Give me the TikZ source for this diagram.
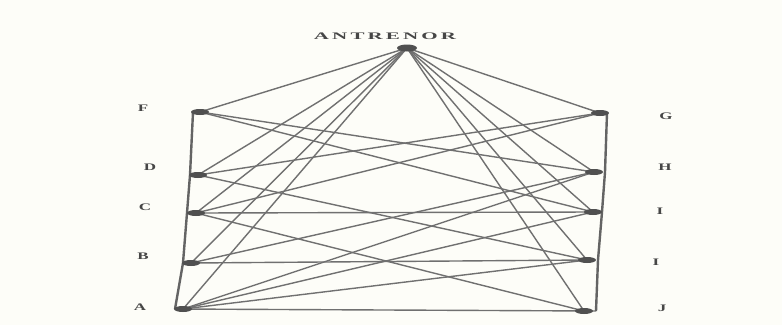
\documentclass[tikz,border=0pt]{standalone}
\usepackage{fontspec}
\setmainfont{Liberation Serif}
\usetikzlibrary{shapes.geometric}
\definecolor{bg}{RGB}{253,253,248}
\definecolor{linegray}{RGB}{112,112,112}
\definecolor{bordergray}{RGB}{100,100,100}
\definecolor{nodegray}{RGB}{80,80,80}
\definecolor{labelgray}{RGB}{70,70,70}
\begin{document}
\begin{tikzpicture}[x=1pt,y=-1pt,
  vtx/.style={ellipse, fill=nodegray, inner sep=0pt, minimum width=18pt, minimum height=6pt},
  edgeline/.style={draw=linegray, line width=1.4pt},
  borderline/.style={draw=bordergray, line width=2.4pt},
  lbl/.style={text=labelgray, font=\bfseries\fontsize{10}{10}\selectfont, inner sep=0pt}]
\fill[bg] (0,0) rectangle (782,325);
\useasboundingbox (0,0) rectangle (782,325);
% positions
\coordinate (N) at (407,48);
\coordinate (F) at (200,112);
\coordinate (D) at (198,175);
\coordinate (C) at (196,213);
\coordinate (B) at (191,263);
\coordinate (A) at (183,309);
\coordinate (G) at (600,113);
\coordinate (H) at (594,172);
\coordinate (I) at (593,212);
\coordinate (K) at (587,260);
\coordinate (J) at (584,311);
% border anchors
\coordinate (Fb) at (193,112);
\coordinate (Db) at (190,175);
\coordinate (Cb) at (187,213);
\coordinate (Bb) at (183,263);
\coordinate (Ab) at (175,309);
\coordinate (Gb) at (607,113);
\coordinate (Hb) at (605,172);
\coordinate (Ib) at (602,212);
\coordinate (Kb) at (598,260);
\coordinate (Jb) at (596,311);
% apex edges
\foreach \t in {F,D,C,B,A,G,H,I,K,J} \draw[edgeline] (N) -- (\t);
% cross edges
\draw[edgeline] (F) -- (H);
\draw[edgeline] (F) -- (I);
\draw[edgeline] (D) -- (G);
\draw[edgeline] (D) -- (K);
\draw[edgeline] (C) -- (G);
\draw[edgeline] (C) -- (I);
\draw[edgeline] (C) -- (J);
\draw[edgeline] (B) -- (H);
\draw[edgeline] (B) -- (K);
\draw[edgeline] (A) -- (H);
\draw[edgeline] (A) -- (I);
\draw[edgeline] (A) -- (K);
\draw[edgeline] (Ab) -- (Jb);
% borders
\draw[borderline] (Fb) -- (Db) -- (Cb) -- (Bb) -- (Ab);
\draw[borderline] (Gb) -- (Hb) -- (Ib) -- (Kb) -- (Jb);
% vertices
\node[vtx, minimum width=20pt, minimum height=7pt] (vN) at (N) {};
\foreach \t in {F,D,C,B,A,G,H,I,K,J} \node[vtx] (v\t) at (\t) {};
% labels
\node[lbl] (lN) at (385,36) {\scalebox{2.1}[1]{\addfontfeature{LetterSpace=15}ANTRENOR}};
\node[lbl] (lF) at (143,108) {\scalebox{1.7}[1]{F}};
\node[lbl] (lD) at (150,167) {\scalebox{1.7}[1]{D}};
\node[lbl] (lC) at (145,207) {\scalebox{1.7}[1]{C}};
\node[lbl] (lB) at (143,256) {\scalebox{1.7}[1]{B}};
\node[lbl] (lA) at (140,307) {\scalebox{1.7}[1]{A}};
\node[lbl] (lG) at (666,116) {\scalebox{1.7}[1]{G}};
\node[lbl] (lH) at (665,167) {\scalebox{1.7}[1]{H}};
\node[lbl] (lI) at (660,211) {\scalebox{1.7}[1]{I}};
\node[lbl] (lK) at (656,262) {\scalebox{1.7}[1]{I}};
\node[lbl] (lJ) at (662,308) {\scalebox{1.7}[1]{J}};
\end{tikzpicture}
\end{document}
